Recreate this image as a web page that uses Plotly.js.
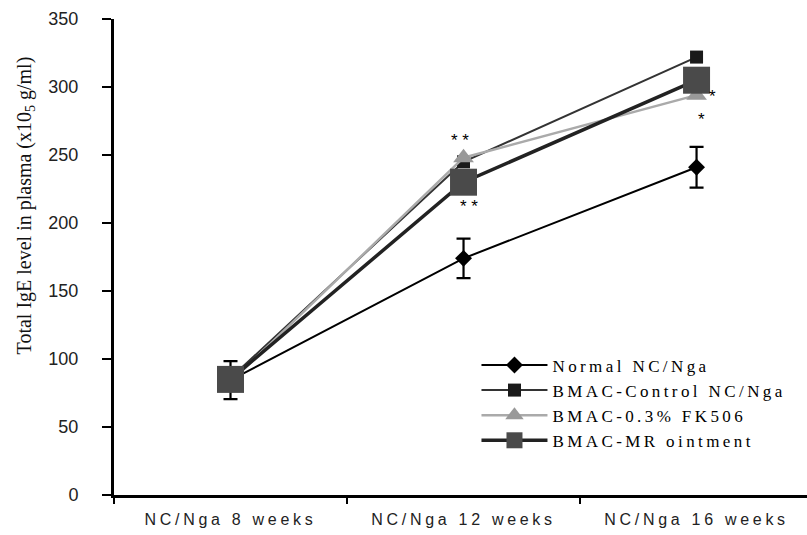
<!DOCTYPE html>
<html>
<head>
<meta charset="utf-8">
<script src="https://cdn.plot.ly/plotly-3.0.1.min.js"></script>
<style>html,body{margin:0;padding:0;background:#fff;}#chart{width:807px;height:535px;}</style>
</head>
<body>
<div id="chart"></div>
<script>
const categories = ["NC/Nga 8 weeks", "NC/Nga 12 weeks", "NC/Nga 16 weeks"];
const seriesNames = ["Normal NC/Nga", "BMAC-Control NC/Nga", "BMAC-0.3% FK506", "BMAC-MR ointment"];
const normal = [84.5, 174, 241];
const normalErr = [14, 14.5, 15];
const control = [86, 245, 322];
const fk506 = [83, 248, 294];
const mrOintment = [85, 230, 305];
const yTicks = [0, 50, 100, 150, 200, 250, 300, 350];
const stars = [
  {x: 0.985, y: 261, text: "* *"},
  {x: 1.025, y: 212, text: "* *"},
  {x: 2.07, y: 293, text: "*"},
  {x: 2.02, y: 276, text: "*"}
];

const traces = [
  {x: categories, y: normal, name: seriesNames[0], type: "scatter", mode: "lines+markers",
   line: {color: "#000", width: 2}, marker: {symbol: "diamond", size: 13, color: "#000"},
   error_y: {type: "data", array: normalErr, visible: true, color: "#000", thickness: 2.2, width: 7}},
  {x: categories, y: control, name: seriesNames[1], type: "scatter", mode: "lines+markers",
   line: {color: "#333", width: 2}, marker: {symbol: "square", size: 13, color: "#1a1a1a"}},
  {x: categories, y: fk506, name: seriesNames[2], type: "scatter", mode: "lines+markers",
   line: {color: "#aaa", width: 2.5}, marker: {symbol: "triangle-up", size: 18, color: "#999"}},
  {x: categories, y: mrOintment, name: seriesNames[3], type: "scatter", mode: "lines+markers",
   line: {color: "#222", width: 3.5}, marker: {symbol: "square", size: 27, color: "#4a4a4a"}}
];

const annotations = stars.map(s => ({x: s.x, y: s.y, xref: "x", yref: "y", text: s.text, showarrow: false,
  font: {family: "Liberation Sans", size: 17, color: "#000"}}));
annotations.push({xref: "paper", yref: "paper", x: -0.128, y: 0.609, xanchor: "center", yanchor: "middle",
  textangle: -90, showarrow: false,
  text: "Total IgE level in plasma (x10<sub>5</sub> g/ml)",
  font: {family: "Liberation Serif", size: 20, color: "#111"}});

const layout = {
  width: 807, height: 535,
  margin: {l: 114, r: 0, t: 19, b: 40},
  paper_bgcolor: "#fff", plot_bgcolor: "#fff",
  showlegend: true,
  legend: {x: 0.575, y: 0.31, xanchor: "left", yanchor: "top", bgcolor: "rgba(0,0,0,0)",
    font: {family: "Liberation Serif", size: 17, color: "#000"}, tracegroupgap: 0},
  xaxis: {type: "category", range: [-0.5, 2.474], showline: true, linewidth: 3, linecolor: "#000",
    ticks: "outside", tickson: "boundaries", ticklen: 6, tickwidth: 2, tickcolor: "#000",
    showgrid: false, zeroline: false, ticklabelstandoff: 8,
    tickfont: {family: "Liberation Sans", size: 16, color: "#222"}},
  yaxis: {range: [0, 350], tickvals: yTicks, showline: true, linewidth: 3, linecolor: "#000",
    ticks: "outside", ticklen: 9, tickwidth: 2.5, tickcolor: "#000", showgrid: false, zeroline: false,
    ticklabelstandoff: 20, tickfont: {family: "Liberation Sans", size: 18, color: "#222"}},
  annotations: annotations
};

Plotly.newPlot("chart", traces, layout, {displayModeBar: false, staticPlot: true}).then(() => {
  document.querySelectorAll(".xtick text").forEach(t => t.setAttribute("letter-spacing", "3.7px"));
  document.querySelectorAll(".legend .scrollbox").forEach(e => e.removeAttribute("clip-path"));
  document.querySelectorAll(".legendtext").forEach(t => t.setAttribute("letter-spacing", "3.4px"));
  document.querySelectorAll(".legend .legendlines path").forEach(p => p.setAttribute("d", "M-31,0h66"));
  document.querySelectorAll(".legend .legendpoints path").forEach(p => p.setAttribute("transform", "translate(2,0)"));
});
</script>
</body>
</html>
